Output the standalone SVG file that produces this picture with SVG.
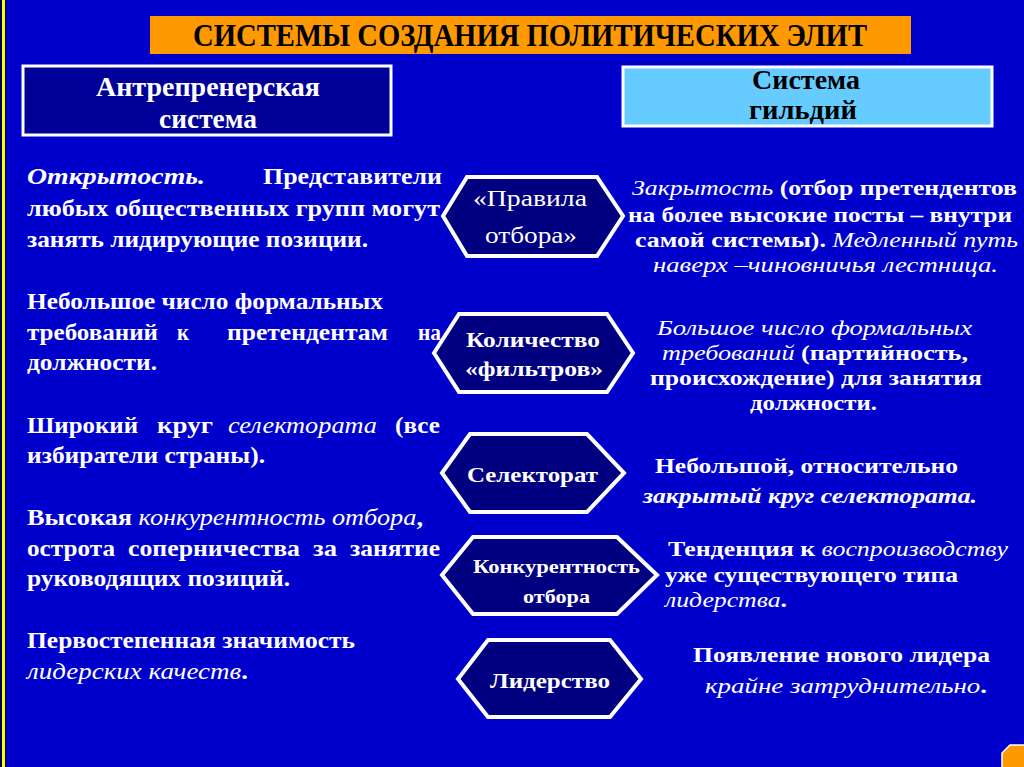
<svg xmlns="http://www.w3.org/2000/svg" width="1024" height="767" viewBox="0 0 1024 767">
<style>
.t{font-family:"Liberation Serif","Times New Roman",serif;fill:#fff;font-size:23px;font-weight:bold}
.r{font-size:22px}
.i{font-style:italic;font-weight:normal}
.bi{font-style:italic;font-weight:bold}
.hex{fill:#000080;stroke:#fff;stroke-width:4;stroke-linejoin:miter}
.ht{font-family:"Liberation Serif","Times New Roman",serif;fill:#fff;font-weight:bold}
.hd{font-family:"Liberation Serif","Times New Roman",serif;font-weight:bold;text-anchor:middle}
</style>
<rect width="1024" height="767" fill="#0000CC"/>
<rect x="0" y="0" width="2" height="767" fill="#000066"/>
<rect x="2" y="0" width="3" height="767" fill="#FFFF00"/>
<rect x="5" y="0" width="1" height="767" fill="#000066"/>

<g id="title">
<rect x="150" y="16" width="761" height="38" fill="#FF9900"/>
<text class="hd" x="530" y="46" font-size="32" fill="#000" textLength="674" lengthAdjust="spacingAndGlyphs">СИСТЕМЫ СОЗДАНИЯ ПОЛИТИЧЕСКИХ  ЭЛИТ</text>
</g>

<g id="left-header">
<rect x="23" y="66" width="368" height="69" fill="#000099" stroke="#fff" stroke-width="3"/>
<text class="hd" x="208" y="96" font-size="28" fill="#fff" textLength="224" lengthAdjust="spacingAndGlyphs">Антрепренерская</text>
<text class="hd" x="208" y="128" font-size="28" fill="#fff" textLength="98" lengthAdjust="spacingAndGlyphs">система</text>
</g>

<g id="right-header">
<rect x="623" y="67" width="369" height="59" fill="#66CCFF" stroke="#fff" stroke-width="3"/>
<text class="hd" x="806" y="89" font-size="28" fill="#000" textLength="108" lengthAdjust="spacingAndGlyphs">Система</text>
<text class="hd" x="803" y="119" font-size="28" fill="#000" textLength="108" lengthAdjust="spacingAndGlyphs">гильдий</text>
</g>

<g id="left-text">
<text class="t bi" x="27" y="184" textLength="178" lengthAdjust="spacingAndGlyphs">Открытость.</text>
<text class="t" x="263" y="184" textLength="179" lengthAdjust="spacingAndGlyphs">Представители</text>
<text class="t" x="27" y="216" textLength="413" lengthAdjust="spacingAndGlyphs">любых общественных групп могут</text>
<text class="t" x="27" y="247" textLength="341" lengthAdjust="spacingAndGlyphs">занять лидирующие позиции.</text>

<text class="t" x="27" y="309" textLength="356" lengthAdjust="spacingAndGlyphs">Небольшое число формальных</text>
<text class="t" x="27" y="340" textLength="131" lengthAdjust="spacingAndGlyphs">требований</text>
<text class="t" x="177" y="340" textLength="12" lengthAdjust="spacingAndGlyphs">к</text>
<text class="t" x="227" y="340" textLength="161" lengthAdjust="spacingAndGlyphs">претендентам</text>
<text class="t" x="418" y="340" textLength="23" lengthAdjust="spacingAndGlyphs">на</text>
<text class="t" x="27" y="370" textLength="130" lengthAdjust="spacingAndGlyphs">должности.</text>

<text class="t" x="27" y="433" textLength="111" lengthAdjust="spacingAndGlyphs">Широкий</text>
<text class="t" x="157" y="433" textLength="56" lengthAdjust="spacingAndGlyphs">круг</text>
<text class="t i" x="228" y="433" textLength="149" lengthAdjust="spacingAndGlyphs">селектората</text>
<text class="t" x="395" y="433" textLength="45" lengthAdjust="spacingAndGlyphs">(все</text>
<text class="t" x="27" y="463" textLength="238" lengthAdjust="spacingAndGlyphs">избиратели страны).</text>

<text class="t" x="27" y="525" textLength="396" lengthAdjust="spacingAndGlyphs">Высокая <tspan class="i">конкурентность отбора</tspan>,</text>
<text class="t" x="27" y="556" textLength="88" lengthAdjust="spacingAndGlyphs">острота</text>
<text class="t" x="128" y="556" textLength="172" lengthAdjust="spacingAndGlyphs">соперничества</text>
<text class="t" x="313" y="556" textLength="24" lengthAdjust="spacingAndGlyphs">за</text>
<text class="t" x="350" y="556" textLength="90" lengthAdjust="spacingAndGlyphs">занятие</text>
<text class="t" x="27" y="586" textLength="263" lengthAdjust="spacingAndGlyphs">руководящих позиций.</text>

<text class="t" x="27" y="648" textLength="328" lengthAdjust="spacingAndGlyphs">Первостепенная значимость</text>
<text class="t" x="27" y="679" textLength="221" lengthAdjust="spacingAndGlyphs"><tspan class="i">лидерских качеств</tspan>.</text>
</g>

<g id="right-text">
<text class="t r" x="632" y="195" textLength="385" lengthAdjust="spacingAndGlyphs"><tspan class="i">Закрытость</tspan> (отбор претендентов</text>
<text class="t r" x="628" y="222" textLength="384" lengthAdjust="spacingAndGlyphs">на более высокие посты – внутри</text>
<text class="t r" x="635" y="247" textLength="383" lengthAdjust="spacingAndGlyphs">самой системы). <tspan class="i">Медленный путь</tspan></text>
<text class="t r i" x="653" y="272" textLength="345" lengthAdjust="spacingAndGlyphs">наверх –чиновничья лестница.</text>

<text class="t r i" x="657" y="335" textLength="315" lengthAdjust="spacingAndGlyphs">Большое число формальных</text>
<text class="t r" x="662" y="360" textLength="306" lengthAdjust="spacingAndGlyphs"><tspan class="i">требований</tspan> (партийность,</text>
<text class="t r" x="650" y="385" textLength="332" lengthAdjust="spacingAndGlyphs">происхождение) для занятия</text>
<text class="t r" x="750" y="410" textLength="127" lengthAdjust="spacingAndGlyphs">должности.</text>

<text class="t r" x="655" y="473" textLength="303" lengthAdjust="spacingAndGlyphs">Небольшой, относительно</text>
<text class="t r bi" x="643" y="503" textLength="334" lengthAdjust="spacingAndGlyphs">закрытый круг селектората.</text>

<text class="t r" x="668" y="556" textLength="340" lengthAdjust="spacingAndGlyphs">Тенденция к <tspan class="i">воспроизводству</tspan></text>
<text class="t r" x="665" y="582" textLength="293" lengthAdjust="spacingAndGlyphs">уже существующего типа</text>
<text class="t r" x="665" y="607" textLength="122" lengthAdjust="spacingAndGlyphs"><tspan class="i">лидерства</tspan>.</text>

<text class="t r" x="693" y="662" textLength="297" lengthAdjust="spacingAndGlyphs">Появление нового лидера</text>
<text class="t r" x="705" y="693" textLength="282" lengthAdjust="spacingAndGlyphs"><tspan class="i">крайне затруднительно</tspan>.</text>
</g>

<g id="connectors"></g>

<g id="hex-rules">
<polygon class="hex" points="443,216 467,177 597,177 623,216 597,256 467,256"/>
<text class="ht" x="473" y="206" font-size="23" style="font-weight:normal" textLength="114" lengthAdjust="spacingAndGlyphs">«Правила</text>
<text class="ht" x="485" y="243" font-size="23" style="font-weight:normal" textLength="92" lengthAdjust="spacingAndGlyphs">отбора»</text>
</g>
<g id="hex-filters">
<polygon class="hex" points="434,353 459,314 607,314 633,353 607,392 459,392"/>
<text class="ht" x="466" y="347" font-size="21" textLength="134" lengthAdjust="spacingAndGlyphs">Количество</text>
<text class="ht" x="465" y="376" font-size="21" textLength="138" lengthAdjust="spacingAndGlyphs">«фильтров»</text>
</g>
<g id="hex-selectorate">
<polygon class="hex" points="442,473 470,434 587,434 624,473 587,512 470,512"/>
<text class="ht" x="467" y="482" font-size="22" textLength="131" lengthAdjust="spacingAndGlyphs">Селекторат</text>
</g>
<g id="hex-competition">
<polygon class="hex" points="442,575 473,537 617,537 657,575 617,614 473,614"/>
<text class="ht" x="473" y="573" font-size="18" textLength="167" lengthAdjust="spacingAndGlyphs">Конкурентность</text>
<text class="ht" x="523" y="603" font-size="18" textLength="67" lengthAdjust="spacingAndGlyphs">отбора</text>
</g>
<g id="hex-leadership">
<polygon class="hex" points="458,679 488,640 610,640 641,679 610,717 488,717"/>
<text class="ht" x="490" y="688" font-size="22" textLength="120" lengthAdjust="spacingAndGlyphs">Лидерство</text>
</g>

<g id="corner-button">
<polygon points="1010,745 1030,745 1040,755 1040,775 1030,785 1010,785 1002,777 1002,753" fill="#FF9900" stroke="#fff" stroke-width="1.5"/>
</g>
</svg>
